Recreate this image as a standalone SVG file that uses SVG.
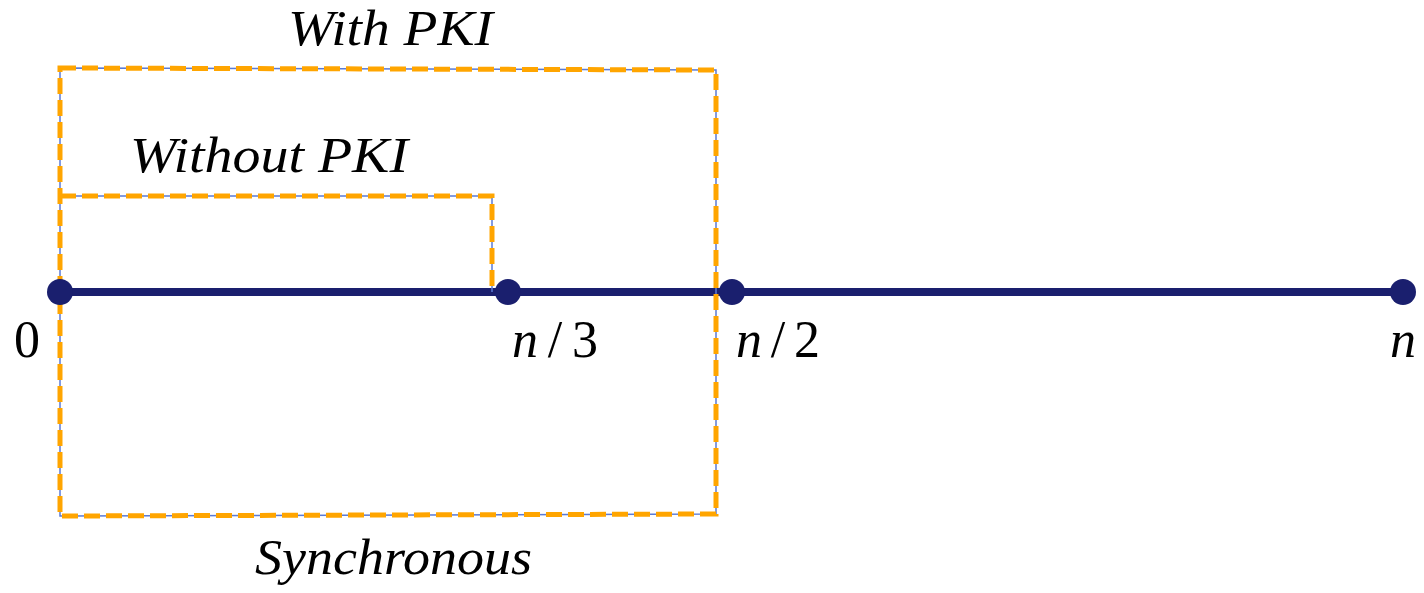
<svg xmlns="http://www.w3.org/2000/svg" width="1424" height="593" viewBox="0 0 1424 593">
<style>
.guide{fill:none;stroke:#5b7bd5;stroke-width:1.5}
.dash{fill:none;stroke:#FFA500;stroke-width:5;stroke-dasharray:16 6}
.axis{stroke:#1a1f6e;stroke-width:8}
.dot{fill:#1a1f6e}
.lbl{font-family:"Liberation Serif",serif;font-style:italic;font-size:50px;fill:#000}
.math{font-family:"Liberation Serif",serif;font-size:52px;fill:#000}
</style>
<rect width="1424" height="593" fill="#fff"/>
<g id="connectors">
<line class="axis" x1="60" y1="292" x2="1403" y2="292"/>
<path class="guide" d="M60,68 L716,70 L716,514 L60,516 Z"/>
<path class="dash" d="M60,68 L716,70 L716,514 L60,516 Z"/>
<path class="guide" d="M60,196 L492,196 L492,292"/>
<path class="dash" d="M60,196 L492,196 L492,292"/>
</g>
<g id="node-0"><circle class="dot" cx="60" cy="292" r="13"/><text class="math" x="14" y="357">0</text></g>
<g id="node-n3"><circle class="dot" cx="508" cy="292" r="13"/><text class="math" x="512" y="357" textLength="86"><tspan font-style="italic">n</tspan>/3</text></g>
<g id="node-n2"><circle class="dot" cx="732" cy="292" r="13"/><text class="math" x="736" y="357" textLength="84"><tspan font-style="italic">n</tspan>/2</text></g>
<g id="node-n"><circle class="dot" cx="1403" cy="292" r="13"/><text class="math" font-style="italic" x="1390" y="357">n</text></g>
<g id="label-with"><text class="lbl" x="288" y="45" textLength="205" lengthAdjust="spacingAndGlyphs">With PKI</text></g>
<g id="label-without"><text class="lbl" x="130" y="172" textLength="278" lengthAdjust="spacingAndGlyphs">Without PKI</text></g>
<g id="label-sync"><text class="lbl" x="255" y="574" textLength="277" lengthAdjust="spacingAndGlyphs">Synchronous</text></g>
</svg>
